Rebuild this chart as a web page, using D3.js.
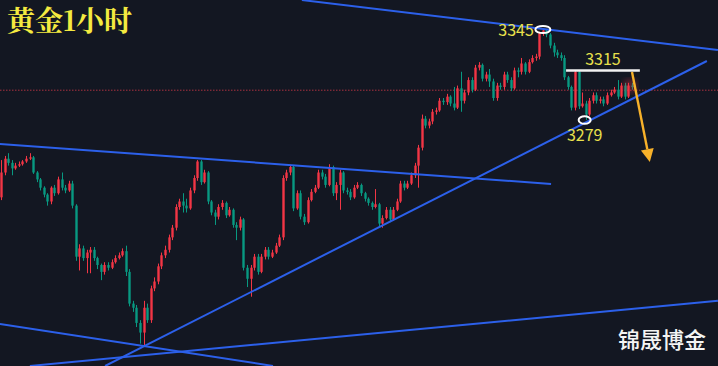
<!DOCTYPE html>
<html>
<head>
<meta charset="utf-8">
<script src="https://cdn.jsdelivr.net/npm/d3@7"></script>
<style>
  html, body { margin: 0; padding: 0; background: #131722; }
  svg { display: block; }
</style>
</head>
<body>
<svg id="chart" width="718" height="366"></svg>
<script>
// gold 1h candles, prices
const firstOpen = 3223;
const closes = [
  3241,3251,3248,3244,3246,3247,3249,3251,3252,3241,
  3236,3230,3225,3220,3230,3226,3236,3230,3228,3233,
  3217,3180,3186,3179,3183,3185,3179,3174,3169,3174,
  3172,3176,3179,3181,3184,3169,3146,3143,3132,3125,
  3143,3134,3157,3162,3173,3181,3185,3194,3201,3216,
  3220,3217,3215,3228,3237,3249,3234,3241,3220,3212,
  3209,3216,3219,3210,3214,3203,3201,3207,3172,3164,
  3172,3180,3169,3180,3185,3180,3183,3188,3194,3237,
  3241,3245,3215,3226,3209,3205,3221,3227,3230,3241,
  3238,3232,3245,3226,3232,3241,3228,3227,3223,3230,
  3232,3226,3222,3219,3216,3218,3204,3208,3214,3207,
  3214,3220,3233,3230,3233,3239,3246,3259,3280,3275,
  3278,3285,3286,3293,3292,3296,3291,
  3288,3302,3293,3299,3308,3301,3317,3319,3309,3312,3307,3295,3304,3303,3312,3308,
  3302,3315,3314,3320,3314,3321,3324,3325,3342,3344,
  3341,3333,3328,3326,3324,3310,3303,3288,3314,3289,
  3291,3283,3293,3297,3293,3294,3291,3297,3299,3301,
  3296,3304,3296,3304,3303
];
const highs = [
  3250,3253,3255,3250,3248,3249,3250,3253,3255,3253,
  3242,3237,3231,3226,3231,3232,3238,3241,3232,3235,
  3235,3218,3189,3188,3185,3187,3187,3180,3175,3176,
  3176,3178,3181,3183,3186,3188,3171,3148,3145,3134,
  3148,3146,3159,3165,3175,3183,3188,3196,3203,3218,
  3222,3226,3222,3230,3239,3250,3250,3243,3242,3221,
  3214,3218,3221,3220,3216,3215,3205,3209,3208,3174,
  3174,3182,3182,3182,3187,3187,3185,3190,3196,3239,
  3243,3246,3246,3228,3228,3211,3223,3229,3232,3243,
  3243,3240,3247,3246,3234,3243,3242,3230,3229,3232,
  3234,3233,3227,3223,3220,3229,3219,3210,3216,3216,
  3216,3222,3235,3235,3235,3241,3248,3261,3283,3282,
  3280,3287,3288,3295,3295,3298,3297,
  3303,3304,3314,3301,3310,3310,3319,3321,3320,3314,3316,3309,3306,3306,3314,3314,
  3310,3317,3317,3324,3321,3323,3326,3327,3343,3345,
  3345,3342,3335,3330,3328,3326,3311,3304,3315,3315,
  3299,3293,3295,3299,3299,3296,3296,3299,3301,3303,
  3308,3306,3306,3306,3306
];
const lows = [
  3221,3239,3246,3239,3243,3245,3246,3248,3250,3240,
  3234,3228,3223,3217,3218,3224,3225,3228,3226,3227,
  3215,3177,3170,3177,3168,3168,3177,3171,3163,3167,
  3170,3171,3175,3178,3180,3166,3144,3140,3129,3117,
  3116,3132,3132,3155,3160,3171,3179,3183,3192,3199,
  3214,3212,3212,3214,3226,3235,3232,3233,3218,3210,
  3203,3207,3214,3208,3209,3201,3192,3199,3170,3158,
  3151,3170,3167,3168,3178,3178,3179,3182,3187,3192,
  3235,3239,3213,3214,3207,3203,3204,3220,3226,3229,
  3236,3230,3231,3224,3221,3214,3226,3225,3221,3222,
  3229,3224,3220,3217,3214,3215,3202,3201,3207,3205,
  3206,3213,3219,3228,3229,3232,3237,3230,3257,3273,
  3273,3276,3283,3285,3290,3290,3289,
  3286,3287,3285,3291,3297,3299,3300,3315,3307,3307,3303,3293,3293,3301,3301,3306,
  3300,3301,3310,3312,3312,3313,3320,3322,3323,3340,
  3339,3331,3325,3324,3322,3308,3301,3286,3286,3287,
  3288,3279,3282,3291,3291,3291,3289,3290,3296,3298,
  3294,3295,3294,3295,3301
];

// trend lines as [candle index, price] pairs
const trendLines = [
  [[84.4, 3366], [201.1, 3329.8]],
  [[-0.3, 3261.7], [154.3, 3232.7]],
  [[29.2, 3100.8], [198, 3321.8]],
  [[-0.3, 3131.2], [76.3, 3100.8]],
  [[8.1, 3100.8], [201.1, 3148]]
];
const lastPrice = 3301;
const peak = { idx: 152, price: 3345, label: "3345" };
const trough = { idx: 164, price: 3279, label: "3279" };
const level = { from: 158.5, to: 179.2, price: 3315, label: "3315" };
const arrowPts = [[177, 3313.8], [182, 3248.6]];

const svg = d3.select("#chart");
const W = 718, H = 366;

const candles = closes.map((c, i) => ({
  i: i,
  o: i === 0 ? firstOpen : closes[i - 1],
  c: c,
  h: highs[i],
  l: lows[i]
}));

const x = d3.scaleLinear().domain([0, candles.length - 1]).range([1, 632]);
const y = d3.scaleLinear().domain([3116, 3345]).range([345, 29]);

const up = "#f23645", down = "#089981"; // red = rising, green = falling

svg.append("rect").attr("width", W).attr("height", H).attr("fill", "#131722");

const defs = svg.append("defs");
defs.append("filter").attr("id", "glow")
  .append("feGaussianBlur").attr("stdDeviation", 3);

// last price dotted line
svg.append("line")
  .attr("x1", 0).attr("x2", W)
  .attr("y1", y(lastPrice) + 0.5).attr("y2", y(lastPrice) + 0.5)
  .attr("stroke", "#a8323f").attr("stroke-width", 1)
  .attr("stroke-dasharray", "1.5,1.5");

// candles
const g = svg.append("g");
g.selectAll("line.wick").data(candles).enter().append("line")
  .attr("class", "wick")
  .attr("x1", d => Math.round(x(d.i)) + 0.5).attr("x2", d => Math.round(x(d.i)) + 0.5)
  .attr("y1", d => y(d.h)).attr("y2", d => y(d.l))
  .attr("stroke", d => d.c >= d.o ? up : down).attr("stroke-width", 1);
g.selectAll("rect.body").data(candles).enter().append("rect")
  .attr("class", "body")
  .attr("x", d => Math.round(x(d.i)) - 0.7)
  .attr("width", 2.4)
  .attr("y", d => y(Math.max(d.o, d.c)))
  .attr("height", d => Math.max(1, Math.abs(y(d.o) - y(d.c))))
  .attr("fill", d => d.c >= d.o ? up : down);

// last candle pulse
const last = candles[candles.length - 1];
svg.append("circle")
  .attr("cx", x(last.i) - 2).attr("cy", y(last.c) - 1).attr("r", 7)
  .attr("fill", "#f23645").attr("opacity", 0.35).attr("filter", "url(#glow)");

// trend lines
svg.append("g").selectAll("line").data(trendLines).enter().append("line")
  .attr("x1", d => x(d[0][0])).attr("y1", d => y(d[0][1]))
  .attr("x2", d => x(d[1][0])).attr("y2", d => y(d[1][1]))
  .attr("stroke", "#2c60ea").attr("stroke-width", 2);

// 3315 level
svg.append("line")
  .attr("x1", x(level.from)).attr("x2", x(level.to))
  .attr("y1", y(level.price)).attr("y2", y(level.price))
  .attr("stroke", "#f2f2f2").attr("stroke-width", 2.5);

// arrow: shaft plus a triangular head built from the two points
const ax0 = x(arrowPts[0][0]), ay0 = y(arrowPts[0][1]);
const ax1 = x(arrowPts[1][0]), ay1 = y(arrowPts[1][1]);
const ang = Math.atan2(ay1 - ay0, ax1 - ax0);
const headLen = 13, headHalf = 6.5;
const bx = ax1 - headLen * Math.cos(ang), by = ay1 - headLen * Math.sin(ang);
svg.append("line")
  .attr("x1", ax0).attr("y1", ay0).attr("x2", bx).attr("y2", by)
  .attr("stroke", "#f7b12a").attr("stroke-width", 2.4);
svg.append("path")
  .attr("d", d3.line()([
    [ax1, ay1],
    [bx + headHalf * Math.sin(ang), by - headHalf * Math.cos(ang)],
    [bx - headHalf * Math.sin(ang), by + headHalf * Math.cos(ang)]
  ]) + "Z")
  .attr("fill", "#f7b12a");

// ellipses at peak and trough
svg.append("ellipse")
  .attr("cx", x(peak.idx)).attr("cy", y(peak.price) + 0.5)
  .attr("rx", 7.5).attr("ry", 3.6)
  .attr("fill", "none").attr("stroke", "#ffffff").attr("stroke-width", 2);
svg.append("ellipse")
  .attr("cx", x(trough.idx) - 1).attr("cy", y(trough.price))
  .attr("rx", 6).attr("ry", 3.8)
  .attr("fill", "none").attr("stroke", "#ffffff").attr("stroke-width", 2);

// labels
const labelFont = "'Noto Sans CJK SC', 'Noto Sans', sans-serif";
svg.append("text").text(peak.label)
  .attr("x", x(peak.idx) - 9).attr("y", y(peak.price) + 7)
  .attr("text-anchor", "end")
  .attr("font-family", labelFont).attr("font-size", 16)
  .attr("fill", "#e8e04c");
svg.append("text").text(level.label)
  .attr("x", (x(level.from) + x(level.to)) / 2).attr("y", y(level.price) - 5)
  .attr("text-anchor", "middle")
  .attr("font-family", labelFont).attr("font-size", 16)
  .attr("fill", "#e8e04c");
svg.append("text").text(trough.label)
  .attr("x", x(trough.idx) - 1).attr("y", y(trough.price) + 21)
  .attr("text-anchor", "middle")
  .attr("font-family", labelFont).attr("font-size", 16)
  .attr("fill", "#e8e04c");

// title and watermark
svg.append("text").text("黄金1小时")
  .attr("x", 7).attr("y", 31)
  .attr("font-family", "'Noto Serif CJK SC', 'Noto Sans CJK SC', serif")
  .attr("font-size", 28).attr("font-weight", "bold")
  .attr("fill", "#f4ea40");
svg.append("text").text("锦晟博金")
  .attr("x", 706).attr("y", 348)
  .attr("text-anchor", "end")
  .attr("font-family", "'Noto Sans CJK SC', sans-serif")
  .attr("font-size", 22).attr("font-weight", 500)
  .attr("fill", "#f4f4f4");
</script>
</body>
</html>
